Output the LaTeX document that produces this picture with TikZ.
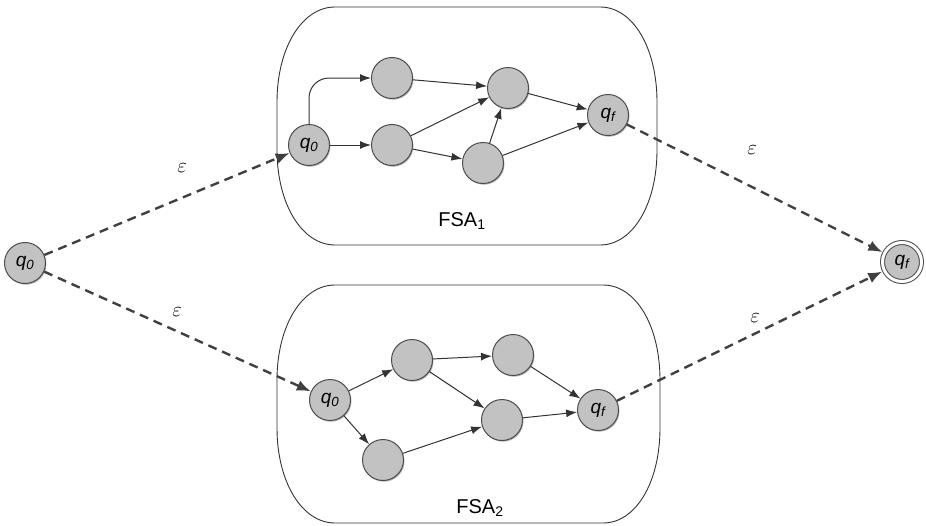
\documentclass[tikz,border=0pt]{standalone}
\usepackage{fontspec}
\setmainfont{Liberation Sans}
\usetikzlibrary{arrows.meta,shadows}
\begin{document}
\begin{tikzpicture}[x=1pt,y=-1pt,
 st/.style={circle,draw=black!70,line width=1pt,fill=black!24,minimum size=41pt,inner sep=0pt,
   font=\fontsize{19}{19}\selectfont,
   drop shadow={opacity=0.3,shadow xshift=1pt,shadow yshift=-1.2pt,fill=black}},
 fin/.style={st,double=white,double distance=3pt,minimum size=39pt,outer sep=2.5pt},
 arr/.style={-{Latex[length=11pt,width=8pt]},line width=1pt,draw=black!80},
 eps/.style={-{Latex[length=14pt,width=11pt]},dashed,dash pattern=on 9pt off 6pt,line width=2.4pt,draw=black!75},
 box/.style={draw=black!80,line width=0.9pt},
 lbl/.style={font=\fontsize{20}{20}\selectfont},
 elbl/.style={font=\fontsize{21}{21}\selectfont}]
\useasboundingbox (0,0) rectangle (926,525);
% boxes
\draw[box] (277,102) .. controls (277,48) and (302,7) .. (335,7) -- (600,7)
  .. controls (633,7) and (657,48) .. (657,102) -- (657,150)
  .. controls (657,204) and (633,245) .. (600,245) -- (335,245)
  .. controls (302,245) and (277,204) .. (277,150) -- cycle;
\draw[box] (277,380) .. controls (277,326) and (302,285) .. (335,285) -- (603,285)
  .. controls (636,285) and (660,326) .. (660,380) -- (660,428)
  .. controls (660,482) and (636,523) .. (603,523) -- (335,523)
  .. controls (302,523) and (277,482) .. (277,428) -- cycle;
\node[lbl] (fsa1) at (462,221) {FSA\textsubscript{1}};
\node[lbl] (fsa2) at (480,508) {FSA\textsubscript{2}};
% outer states
\node[st] (s0) at (25,263) {\itshape q\textsubscript{0}};
\node[fin] (sf) at (902,262) {\itshape q\textsubscript{f}};
% FSA1
\node[st] (a0) at (309,145) {\itshape q\textsubscript{0}};
\node[st] (a1) at (392,78) {};
\node[st] (a2) at (392,145) {};
\node[st] (a3) at (508,88) {};
\node[st] (a4) at (483,163) {};
\node[st] (af) at (608,115) {\itshape q\textsubscript{f}};
% FSA2
\node[st] (b0) at (330,400) {\itshape q\textsubscript{0}};
\node[st] (b1) at (412,360) {};
\node[st] (b2) at (513,355) {};
\node[st] (b3) at (502,420) {};
\node[st] (b4) at (383,460) {};
\node[st] (bf) at (598,410) {\itshape q\textsubscript{f}};
% FSA1 edges
\draw[arr,rounded corners=20pt] (a0.north) |- (a1.west);
\draw[arr] (a0) -- (a2);
\draw[arr] (a1) -- (a3);
\draw[arr] (a2) -- (a3);
\draw[arr] (a2) -- (a4);
\draw[arr] (a4) -- (a3);
\draw[arr] (a3) -- (af);
\draw[arr] (a4) -- (af);
% FSA2 edges
\draw[arr] (b0) -- (b1);
\draw[arr] (b0) -- (b4);
\draw[arr] (b1) -- (b2);
\draw[arr] (b1) -- (b3);
\draw[arr] (b4) -- (b3);
\draw[arr] (b2) -- (bf);
\draw[arr] (b3) -- (bf);
% epsilon edges
\draw[eps] (s0) -- (a0);
\draw[eps] (s0) -- (b0);
\draw[eps] (af) -- (sf);
\draw[eps] (bf) -- (sf);
\node[elbl] (e1) at (182,168) {$\varepsilon$};
\node[elbl] (e2) at (177,312) {$\varepsilon$};
\node[elbl] (e3) at (752,150) {$\varepsilon$};
\node[elbl] (e4) at (755,318) {$\varepsilon$};
\end{tikzpicture}
\end{document}
